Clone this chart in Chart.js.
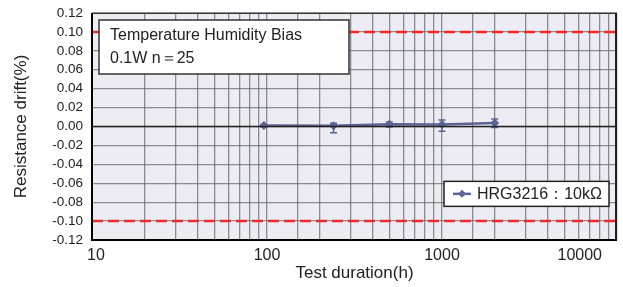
<!DOCTYPE html>
<html>
<head>
<meta charset="utf-8">
<script src="https://cdn.jsdelivr.net/npm/chart.js@4.4.1/dist/chart.umd.min.js"></script>
<style>
  html, body { margin: 0; padding: 0; background: #ffffff; }
  #wrap { width: 623px; height: 287px; position: relative; }
</style>
</head>
<body>
<div id="wrap"><canvas id="chart"></canvas></div>
<script>
/* ── data ── */
const hours    = [96, 240, 500, 1000, 2000];
const drift    = [0.001, 0.0007, 0.0025, 0.002, 0.0037];
const errHigh  = [0.002, 0.0035, 0.0048, 0.007, 0.0078];
const errLow   = [-0.0008, -0.0065, -0.0005, -0.005, -0.001];
const limitHigh = 0.10;
const limitLow  = -0.10;
const xRange   = [10, 10000];
const xLabels  = [10, 100, 1000, 10000];
const yTicks   = [-0.12, -0.10, -0.08, -0.06, -0.04, -0.02, 0, 0.02, 0.04, 0.06, 0.08, 0.10, 0.12];
const seriesName = 'HRG3216：10kΩ';
const noteLines  = ['Temperature Humidity Bias', '0.1W n＝25'];

const FONT   = "'Liberation Sans', Arial, sans-serif";
const BLUE   = '#5b6494';
const RED    = '#ee2a2a';
const GRID   = 'rgba(105,105,115,0.75)';

/* ── plugins ── */
const plotBg = {
  id: 'plotBg',
  beforeDraw(chart) {
    const { ctx, chartArea: a } = chart;
    ctx.save();
    ctx.fillStyle = '#ececf2';
    ctx.fillRect(a.left, a.top, a.right - a.left, a.bottom - a.top);
    ctx.restore();
  },
};

const errorBars = {
  id: 'errorBars',
  afterDatasetsDraw(chart) {
    const { ctx, scales: { x, y } } = chart;
    ctx.save();
    ctx.strokeStyle = BLUE;
    ctx.lineWidth = 1.5;
    hours.forEach((h, i) => {
      const px = x.getPixelForValue(h);
      const y1 = y.getPixelForValue(errHigh[i]);
      const y2 = y.getPixelForValue(errLow[i]);
      ctx.beginPath();
      ctx.moveTo(px, y1); ctx.lineTo(px, y2);
      ctx.moveTo(px - 3.5, y1); ctx.lineTo(px + 3.5, y1);
      ctx.moveTo(px - 3.5, y2); ctx.lineTo(px + 3.5, y2);
      ctx.stroke();
    });
    ctx.restore();
  },
};

const frameAndText = {
  id: 'frameAndText',
  afterDraw(chart) {
    const { ctx, chartArea: a, scales: { x, y } } = chart;
    ctx.save();

    // zero line
    const y0 = y.getPixelForValue(0);
    ctx.strokeStyle = '#222';
    ctx.lineWidth = 1.5;
    ctx.beginPath(); ctx.moveTo(a.left, y0); ctx.lineTo(a.right, y0); ctx.stroke();

    // frame
    ctx.strokeStyle = '#333';
    ctx.lineWidth = 1;
    ctx.strokeRect(a.left + 0.5, a.top + 0.5, a.right - a.left - 1, a.bottom - a.top - 1);
    ctx.strokeStyle = '#000';
    ctx.lineWidth = 2;
    ctx.beginPath();
    ctx.moveTo(a.left, a.top); ctx.lineTo(a.left, a.bottom); ctx.lineTo(a.right, a.bottom);
    ctx.stroke();
    ctx.strokeStyle = '#222';
    ctx.beginPath(); ctx.moveTo(a.right - 1, a.top); ctx.lineTo(a.right - 1, a.bottom); ctx.stroke();

    // x labels (last one pulled inside like the original)
    ctx.fillStyle = '#222';
    ctx.font = '16px ' + FONT;
    ctx.textBaseline = 'middle';
    ctx.textAlign = 'center';
    xLabels.forEach(v => {
      const t = String(v);
      const w = ctx.measureText(t).width;
      let px = x.getPixelForValue(v);
      px = Math.max(px, a.left - 5 + w / 2);
      px = Math.min(px, a.right - 15 - w / 2);
      ctx.fillText(t, px, a.bottom + 16);
    });

    // note box
    ctx.font = '16px ' + FONT;
    ctx.textAlign = 'left';
    const bx = a.left + 7, by = a.top + 7, bw = 250, bh = 54;
    ctx.fillStyle = '#fff';
    ctx.fillRect(bx, by, bw, bh);
    ctx.strokeStyle = '#333';
    ctx.lineWidth = 1.5;
    ctx.strokeRect(bx, by, bw, bh);
    ctx.fillStyle = '#222';
    noteLines.forEach((t, i) => ctx.fillText(t, bx + 11, by + 16 + i * 23));

    // legend box
    const lw = 165, lh = 25;
    const lx = a.right - 173, ly = y.getPixelForValue(-0.058);
    ctx.fillStyle = '#fff';
    ctx.fillRect(lx, ly, lw, lh);
    ctx.strokeStyle = '#222';
    ctx.lineWidth = 1.5;
    ctx.strokeRect(lx, ly, lw, lh);
    const my = ly + lh / 2;
    ctx.strokeStyle = BLUE;
    ctx.lineWidth = 2.5;
    ctx.beginPath(); ctx.moveTo(lx + 9, my); ctx.lineTo(lx + 27, my); ctx.stroke();
    ctx.fillStyle = BLUE;
    ctx.beginPath();
    ctx.moveTo(lx + 18, my - 4); ctx.lineTo(lx + 22, my); ctx.lineTo(lx + 18, my + 4); ctx.lineTo(lx + 14, my);
    ctx.closePath(); ctx.fill();
    ctx.fillStyle = '#222';
    ctx.fillText(seriesName, lx + 33, my + 1);

    ctx.restore();
  },
};

/* ── chart ── */
new Chart(document.getElementById('chart'), {
  type: 'line',
  data: {
    datasets: [
      {
        label: seriesName,
        data: hours.map((h, i) => ({ x: h, y: drift[i] })),
        borderColor: BLUE, backgroundColor: BLUE,
        borderWidth: 2.5,
        pointStyle: 'rectRot', pointRadius: 4.5, pointBorderWidth: 0,
        order: 0,
      },
      {
        label: 'upper limit',
        data: xRange.map(v => ({ x: v, y: limitHigh })),
        borderColor: RED, borderWidth: 2.5, borderDash: [11, 5],
        pointRadius: 0, order: 1,
      },
      {
        label: 'lower limit',
        data: xRange.map(v => ({ x: v, y: limitLow })),
        borderColor: RED, borderWidth: 2.5, borderDash: [11, 5],
        pointRadius: 0, order: 1,
      },
    ],
  },
  options: {
    responsive: true, maintainAspectRatio: false,
    animation: false,
    layout: { padding: { left: 0, right: 6, top: 13, bottom: 0 } },
    plugins: { legend: { display: false }, tooltip: { enabled: false } },
    scales: {
      x: {
        type: 'logarithmic',
        min: xRange[0], max: xRange[1],
        grid: { color: GRID, lineWidth: 1.3, drawTicks: false },
        border: { display: false },
        ticks: { display: false },
        title: { display: true, text: 'Test duration(h)', color: '#222', font: { family: FONT, size: 17 }, padding: { top: 0, bottom: 3 } },
        afterFit: s => { s.height = 47; s.paddingLeft = 0; s.paddingRight = 0; },
      },
      y: {
        min: -0.12, max: 0.12,
        afterBuildTicks: s => { s.ticks = yTicks.map(v => ({ value: v })); },
        grid: { color: GRID, lineWidth: 1.3, drawTicks: false },
        border: { display: false },
        ticks: {
          autoSkip: false,
          color: '#222', padding: 9,
          font: { family: FONT, size: 13.5 },
          callback: v => (Math.abs(v) < 1e-9 ? 0 : v).toFixed(2),
        },
        title: { display: true, text: 'Resistance drift(%)', color: '#222', font: { family: FONT, size: 17 }, padding: { top: 11, bottom: 0 } },
        afterFit: s => { s.width = 92; s.paddingTop = 0; s.paddingBottom = 0; },
      },
    },
  },
  plugins: [plotBg, errorBars, frameAndText],
});
</script>
</body>
</html>
